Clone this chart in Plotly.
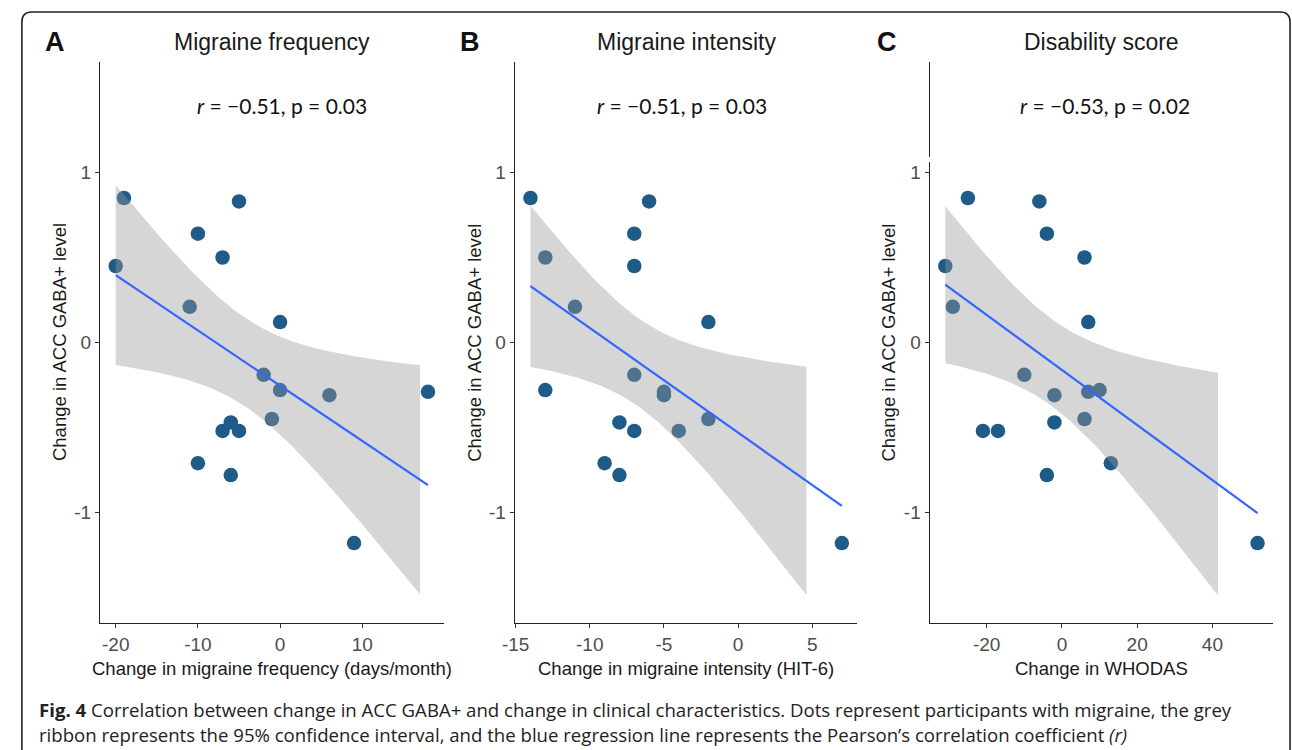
import numpy as np
import plotly.graph_objects as go

W, H = 1292, 750

# ---------------- data ----------------
gaba_change = [0.85, 0.83, 0.64, 0.50, 0.45, 0.21, 0.12, -0.19, -0.28, -0.29,
               -0.31, -0.45, -0.47, -0.52, -0.52, -0.71, -0.78, -1.18]
freq_change = [-19, -5, -10, -7, -20, -11, 0, -2, 0, 18,
               6, -1, -6, -7, -5, -10, -6, 9]
hit6_change = [-14, -6, -7, -13, -7, -11, -2, -7, -13, -5,
               -5, -2, -8, -7, -4, -9, -8, 7]
whodas_change = [-25, -6, -4, 6, -31, -29, 7, -10, 10, 7,
                 -2, 6, -2, -21, -17, 13, -4, 52]

panel_letters = ["A", "B", "C"]
panel_titles = ["Migraine frequency", "Migraine intensity", "Disability score"]
x_titles = ["Change in migraine frequency (days/month)",
            "Change in migraine intensity (HIT-6)",
            "Change in WHODAS"]
y_title = "Change in ACC GABA+ level"
r_labels = ["\u22120.51", "\u22120.51", "\u22120.53"]
p_labels = ["0.03", "0.03", "0.02"]
x_tickvals = [[-20, -10, 0, 10], [-15, -10, -5, 0, 5], [-20, 0, 20, 40]]
y_tickvals = [-1, 0, 1]
y_limits = (-1.5, 1.5)
T_CRIT = 2.1199  # t quantile 0.975, df = 16

caption_line1 = ("<b>Fig. 4</b> Correlation between change in ACC GABA+ and change in clinical "
                 "characteristics. Dots represent participants with migraine, the grey")
caption_line2 = ("ribbon represents the 95% confidence interval, and the blue regression line "
                 "represents the Pearson\u2019s correlation coefficient <i>(r)</i>")

# ---------------- layout geometry (pixels) ----------------
left_px = [88, 507, 926]
right_px = [435, 853, 1273]
top_px, bottom_px = 62, 623
letter_x = [42, 462, 883]
ytitle_x = [47, 466, 884]
rtext_x = [272, 676, 1103]


def pxx(x):
    return x / W


def pxy(y):
    return 1 - y / H


AX_FONT = "Liberation Sans, Arial, sans-serif"
POINT_COLOR = "#1E5B88"

fig = go.Figure()
layout = dict(
    width=W, height=H, margin=dict(l=0, r=0, t=0, b=0),
    paper_bgcolor="white", plot_bgcolor="white", showlegend=False,
)
annotations = []
shapes = []

xs_all = [freq_change, hit6_change, whodas_change]
y = np.array(gaba_change, dtype=float)
n = len(y)
ypad = 0.05 * (y_limits[1] - y_limits[0])

for i, xs in enumerate(xs_all):
    suffix = "" if i == 0 else str(i + 1)
    xa, ya = "x" + suffix, "y" + suffix
    x = np.array(xs, dtype=float)

    # points
    fig.add_trace(go.Scatter(x=x, y=y, mode="markers", xaxis=xa, yaxis=ya,
                             marker=dict(size=14.5, color=POINT_COLOR, line=dict(width=0)),
                             hoverinfo="x+y"))

    # linear fit + 95% CI
    b, a = np.polyfit(x, y, 1)
    grid = np.linspace(x.min(), x.max(), 80)
    fit = a + b * grid
    resid = y - (a + b * x)
    s = np.sqrt(np.sum(resid ** 2) / (n - 2))
    sxx = np.sum((x - x.mean()) ** 2)
    se = s * np.sqrt(1 / n + (grid - x.mean()) ** 2 / sxx)
    lo, hi = fit - T_CRIT * se, fit + T_CRIT * se
    keep = (lo >= y_limits[0]) & (hi <= y_limits[1])
    gx, glo, ghi = grid[keep], lo[keep], hi[keep]
    fig.add_trace(go.Scatter(x=np.concatenate([gx, gx[::-1]]),
                             y=np.concatenate([ghi, glo[::-1]]),
                             mode="lines", fill="toself",
                             fillcolor="rgba(153,153,153,0.4)",
                             line=dict(width=0), xaxis=xa, yaxis=ya, hoverinfo="skip"))
    fig.add_trace(go.Scatter(x=grid, y=fit, mode="lines", xaxis=xa, yaxis=ya,
                             line=dict(color="#3366FF", width=2.2), hoverinfo="skip"))

    xpad = 0.05 * (x.max() - x.min())
    axis_common = dict(showline=True, linecolor="#222222", linewidth=1.3,
                       ticks="outside", ticklen=4, tickcolor="#333333", tickwidth=1,
                       tickfont=dict(family=AX_FONT, size=19, color="#4D4D4D"),
                       showgrid=False, zeroline=False)
    layout["xaxis" + suffix] = dict(
        domain=[pxx(left_px[i]), pxx(right_px[i])],
        range=[x.min() - xpad, x.max() + xpad],
        anchor=ya, tickmode="array", tickvals=x_tickvals[i],
        ticktext=[str(v) for v in x_tickvals[i]], **axis_common)
    layout["yaxis" + suffix] = dict(
        domain=[pxy(bottom_px), pxy(top_px)],
        range=[y_limits[0] - ypad, y_limits[1] + ypad],
        anchor=xa, tickmode="array", tickvals=y_tickvals,
        ticktext=[str(v) for v in y_tickvals], **axis_common)

    cx = (left_px[i] + right_px[i]) / 2
    annotations += [
        dict(x=pxx(letter_x[i]), y=pxy(42), xref="paper", yref="paper", showarrow=False,
             text="<b>%s</b>" % panel_letters[i], xanchor="center", yanchor="middle",
             font=dict(family=AX_FONT, size=27, color="#111111")),
        dict(x=pxx(cx), y=pxy(42), xref="paper", yref="paper", showarrow=False,
             text=panel_titles[i], xanchor="center", yanchor="middle",
             font=dict(family=AX_FONT, size=23, color="#1a1a1a")),
        dict(x=pxx(rtext_x[i]), y=pxy(105), xref="paper", yref="paper", showarrow=False,
             text="<i>r</i> = %s, p = %s" % (r_labels[i], p_labels[i]),
             xanchor="center", yanchor="middle",
             font=dict(family="Lato, Open Sans, sans-serif", size=21, color="#111111")),
        dict(x=pxx(cx), y=pxy(668), xref="paper", yref="paper", showarrow=False,
             text=x_titles[i], xanchor="center", yanchor="middle",
             font=dict(family=AX_FONT, size=18.5, color="#1a1a1a")),
        dict(x=pxx(ytitle_x[i]), y=pxy((top_px + bottom_px) / 2), xref="paper", yref="paper",
             showarrow=False, text=y_title, textangle=-90, xanchor="center", yanchor="middle",
             font=dict(family=AX_FONT, size=18.5, color="#1a1a1a")),
    ]

# small break in panel C y-axis line
shapes.append(dict(type="rect", xref="paper", yref="paper", layer="above",
                   x0=pxx(left_px[2] - 3), x1=pxx(left_px[2] + 3),
                   y0=pxy(162), y1=pxy(157), fillcolor="white", line=dict(width=0)))

# caption
annotations += [
    dict(x=pxx(24), y=pxy(709), xref="paper", yref="paper", showarrow=False,
         text=caption_line1, xanchor="left", yanchor="middle", align="left",
         font=dict(family="Open Sans, Noto Sans, sans-serif", size=18.6, color="#222222")),
    dict(x=pxx(24), y=pxy(734), xref="paper", yref="paper", showarrow=False,
         text=caption_line2, xanchor="left", yanchor="middle", align="left",
         font=dict(family="Open Sans, Noto Sans, sans-serif", size=18.6, color="#222222")),
]

# rounded outer border (open at the bottom)
x0, x1, yt, yb, r = 9, 1290, 12, 760, 10
path = ("M %f,%f L %f,%f Q %f,%f %f,%f L %f,%f Q %f,%f %f,%f L %f,%f" % (
    pxx(x0), pxy(yb), pxx(x0), pxy(yt + r), pxx(x0), pxy(yt), pxx(x0 + r), pxy(yt),
    pxx(x1 - r), pxy(yt), pxx(x1), pxy(yt), pxx(x1), pxy(yt + r), pxx(x1), pxy(yb)))
shapes.append(dict(type="path", xref="paper", yref="paper", path=path,
                   line=dict(color="#222222", width=1.6)))

layout["annotations"] = annotations
layout["shapes"] = shapes
fig.update_layout(**layout)
fig.write_html("out.html")
